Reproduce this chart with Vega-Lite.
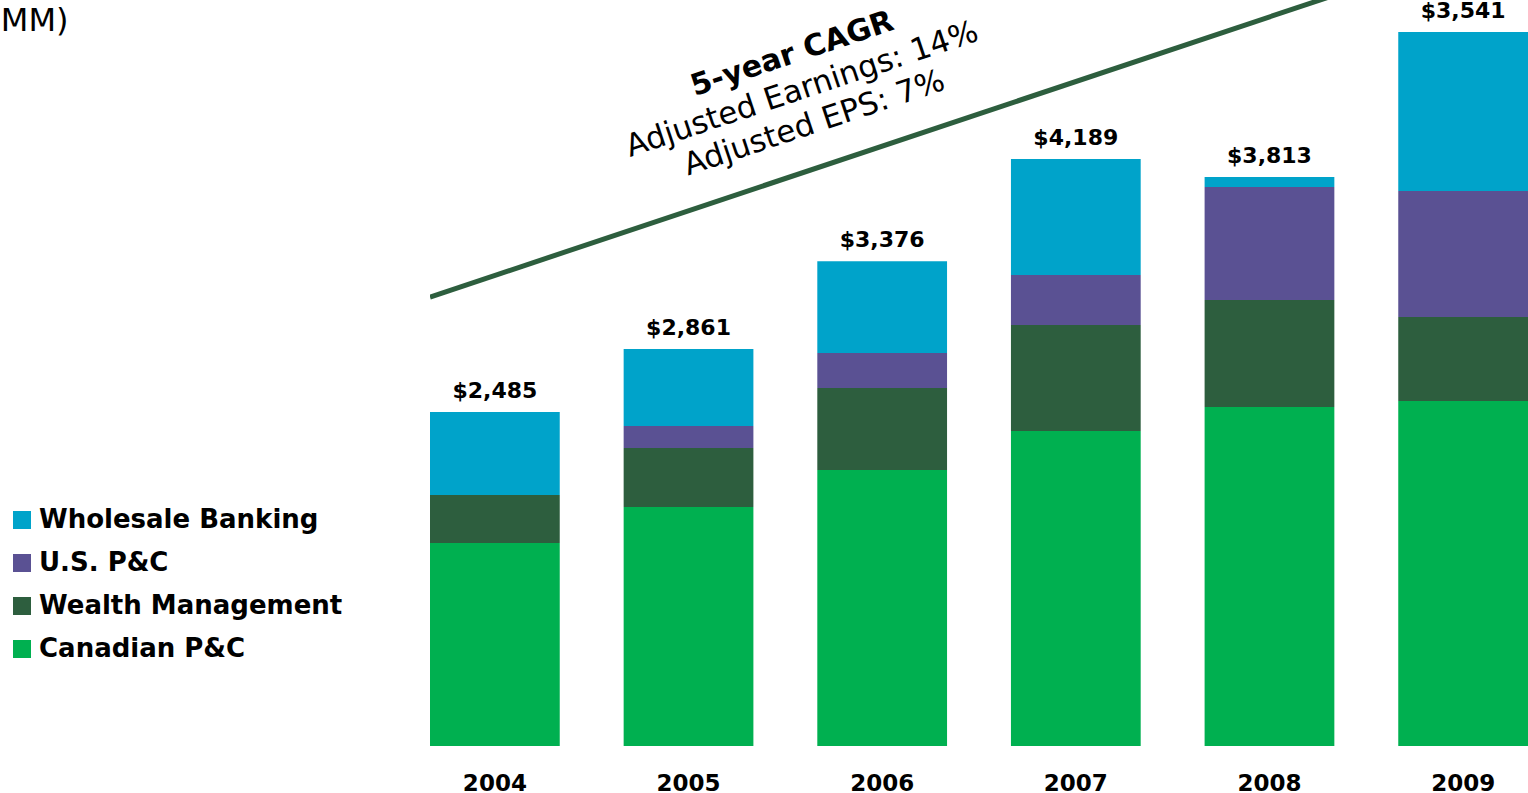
{
  "$schema": "https://vega.github.io/schema/vega-lite/v6.json",
  "autosize": "none",
  "width": 1098,
  "height": 746,
  "padding": {"left": 430, "top": 0, "right": 0, "bottom": 47},
  "background": "white",
  "config": {"view": {"stroke": null}},
  "datasets": {
    "segments": [
      {"year": "2004", "segment": "Canadian P&C", "rank": 1, "value": 1510, "total": "$2,485"},
      {"year": "2004", "segment": "Wealth Management", "rank": 2, "value": 357, "total": "$2,485"},
      {"year": "2004", "segment": "U.S. P&C", "rank": 3, "value": 0, "total": "$2,485"},
      {"year": "2004", "segment": "Wholesale Banking", "rank": 4, "value": 618, "total": "$2,485"},
      {"year": "2005", "segment": "Canadian P&C", "rank": 1, "value": 1778, "total": "$2,861"},
      {"year": "2005", "segment": "Wealth Management", "rank": 2, "value": 439, "total": "$2,861"},
      {"year": "2005", "segment": "U.S. P&C", "rank": 3, "value": 164, "total": "$2,861"},
      {"year": "2005", "segment": "Wholesale Banking", "rank": 4, "value": 573, "total": "$2,861"},
      {"year": "2006", "segment": "Canadian P&C", "rank": 1, "value": 2053, "total": "$3,376"},
      {"year": "2006", "segment": "Wealth Management", "rank": 2, "value": 610, "total": "$3,376"},
      {"year": "2006", "segment": "U.S. P&C", "rank": 3, "value": 260, "total": "$3,376"},
      {"year": "2006", "segment": "Wholesale Banking", "rank": 4, "value": 684, "total": "$3,376"},
      {"year": "2007", "segment": "Canadian P&C", "rank": 1, "value": 2344, "total": "$4,189"},
      {"year": "2007", "segment": "Wealth Management", "rank": 2, "value": 789, "total": "$4,189"},
      {"year": "2007", "segment": "U.S. P&C", "rank": 3, "value": 372, "total": "$4,189"},
      {"year": "2007", "segment": "Wholesale Banking", "rank": 4, "value": 863, "total": "$4,189"},
      {"year": "2008", "segment": "Canadian P&C", "rank": 1, "value": 2522, "total": "$3,813"},
      {"year": "2008", "segment": "Wealth Management", "rank": 2, "value": 796, "total": "$3,813"},
      {"year": "2008", "segment": "U.S. P&C", "rank": 3, "value": 841, "total": "$3,813"},
      {"year": "2008", "segment": "Wholesale Banking", "rank": 4, "value": 74, "total": "$3,813"},
      {"year": "2009", "segment": "Canadian P&C", "rank": 1, "value": 2567, "total": "$3,541"},
      {"year": "2009", "segment": "Wealth Management", "rank": 2, "value": 625, "total": "$3,541"},
      {"year": "2009", "segment": "U.S. P&C", "rank": 3, "value": 937, "total": "$3,541"},
      {"year": "2009", "segment": "Wholesale Banking", "rank": 4, "value": 1183, "total": "$3,541"}
    ]
  },
  "layer": [
    {
      "data": {"name": "segments"},
      "mark": {"type": "bar"},
      "encoding": {
        "x": {
          "field": "year", "type": "nominal",
          "scale": {"paddingInner": 0.33, "paddingOuter": 0},
          "axis": {
            "title": null, "labelAngle": 0, "ticks": false, "tickSize": 0, "domain": false,
            "labelFont": "DejaVu Sans", "labelFontWeight": "bold", "labelFontSize": 23,
            "labelColor": "#000000", "labelBaseline": "alphabetic", "labelPadding": 44
          }
        },
        "y": {
          "field": "value", "type": "quantitative", "stack": "zero",
          "scale": {"domain": [0, 5550], "nice": false, "zero": true},
          "axis": {
            "title": "Adjusted Earnings ($MM)", "labels": false, "ticks": false, "domain": false, "grid": false,
            "titleAngle": 0, "titleAlign": "right", "titleBaseline": "alphabetic",
            "titleX": -362, "titleY": 30, "titleFont": "DejaVu Sans", "titleFontWeight": "normal",
            "titleFontSize": 32, "titleColor": "#000000"
          }
        },
        "color": {
          "field": "segment", "type": "nominal",
          "scale": {
            "domain": ["Wholesale Banking", "U.S. P&C", "Wealth Management", "Canadian P&C"],
            "range": ["#00A3CA", "#5A5193", "#2D5E3E", "#00B050"]
          },
          "legend": {
            "title": null, "orient": "none", "legendX": -421, "legendY": 507, "direction": "vertical",
            "padding": 0, "symbolType": "square", "symbolSize": 324, "symbolStrokeWidth": 0,
            "labelFont": "DejaVu Sans", "labelFontWeight": "bold", "labelFontSize": 26,
            "labelColor": "#000000", "labelOffset": 4, "rowPadding": 17, "labelLimit": 400
          }
        },
        "order": {"field": "rank", "type": "quantitative", "sort": "ascending"}
      }
    },
    {
      "data": {"name": "segments"},
      "transform": [
        {"aggregate": [{"op": "sum", "field": "value", "as": "top"}], "groupby": ["year", "total"]}
      ],
      "mark": {"type": "text", "font": "DejaVu Sans", "fontWeight": "bold", "fontSize": 22, "color": "#000000", "align": "center", "baseline": "alphabetic", "dy": -14},
      "encoding": {
        "x": {"field": "year", "type": "nominal"},
        "y": {"field": "top", "type": "quantitative"},
        "text": {"field": "total", "type": "nominal"}
      }
    },
    {
      "data": {"values": [{"year": "2004", "v": 3340}, {"year": "2009", "v": 5744}]},
      "mark": {"type": "line", "color": "#2D5E3E", "strokeWidth": 5, "clip": true},
      "encoding": {
        "x": {"field": "year", "type": "nominal", "bandPosition": 0},
        "y": {"field": "v", "type": "quantitative"}
      }
    },
    {
      "data": {"values": [{"year": "2006", "v": 4919, "note": "5-year CAGR"}]},
      "mark": {"type": "text", "font": "DejaVu Sans", "fontWeight": "bold", "fontSize": 30, "color": "#000000", "align": "center", "baseline": "middle", "angle": 341.5, "dx": -14, "dy": -37},
      "encoding": {
        "x": {"field": "year", "type": "nominal", "bandPosition": 0},
        "y": {"field": "v", "type": "quantitative"},
        "text": {"field": "note", "type": "nominal"}
      }
    },
    {
      "data": {"values": [{"year": "2006", "v": 4919, "note": "Adjusted Earnings:  14%"}]},
      "mark": {"type": "text", "font": "DejaVu Sans", "fontWeight": "normal", "fontSize": 31, "color": "#000000", "align": "center", "baseline": "middle", "angle": 341.5, "dx": -16, "dy": 0},
      "encoding": {
        "x": {"field": "year", "type": "nominal", "bandPosition": 0},
        "y": {"field": "v", "type": "quantitative"},
        "text": {"field": "note", "type": "nominal"}
      }
    },
    {
      "data": {"values": [{"year": "2006", "v": 4919, "note": "Adjusted EPS:  7%"}]},
      "mark": {"type": "text", "font": "DejaVu Sans", "fontWeight": "normal", "fontSize": 31, "color": "#000000", "align": "center", "baseline": "middle", "angle": 341.5, "dx": -15, "dy": 36},
      "encoding": {
        "x": {"field": "year", "type": "nominal", "bandPosition": 0},
        "y": {"field": "v", "type": "quantitative"},
        "text": {"field": "note", "type": "nominal"}
      }
    }
  ]
}
